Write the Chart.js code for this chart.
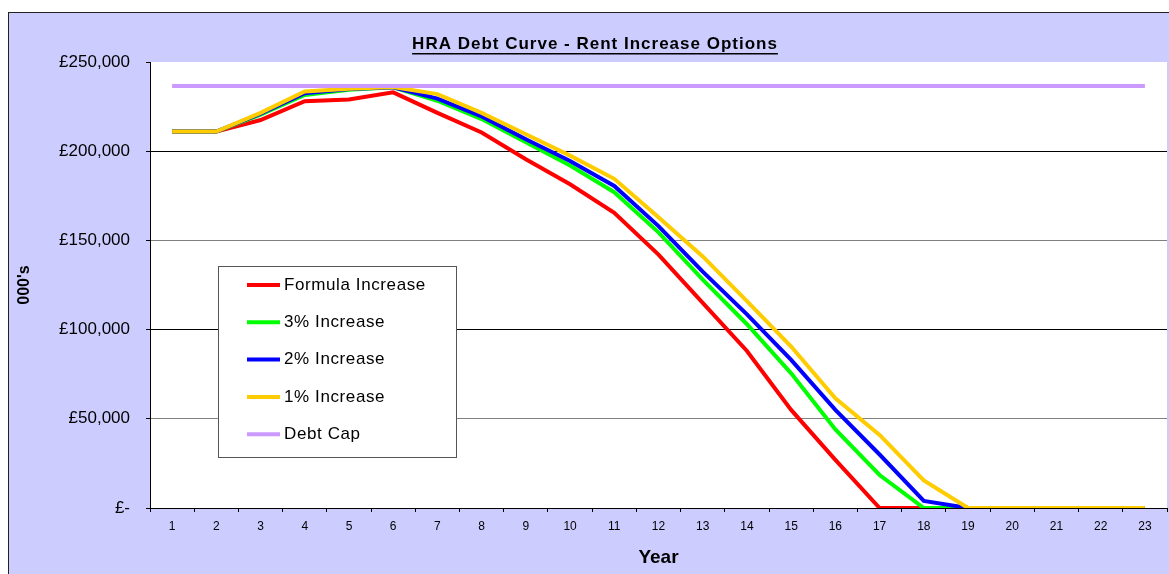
<!DOCTYPE html>
<html>
<head>
<meta charset="utf-8">
<script src="https://cdn.jsdelivr.net/npm/chart.js@4"></script>
<style>
  body { margin: 0; background: #fff; }
  #box {
    position: absolute; left: 8px; top: 12px;
    width: 1160px; height: 561px;
    background: #ccccff;
    border-top: 1px solid #222; border-left: 1px solid #222;
  }
</style>
</head>
<body>
<div id="box"><canvas id="chart" width="1160" height="561"></canvas></div>
<script>
// values in £000's
const years = ["1", "2", "3", "4", "5", "6", "7", "8", "9", "10", "11", "12",
  "13", "14", "15", "16", "17", "18", "19", "20", "21", "22", "23"];

const formulaIncrease = [211000, 211000, 217500, 228000, 229000, 233000, 221500, 210500,
  195500, 181500, 165500, 142000, 115000, 88000, 55000, 27000, 0, 0, 0, 0, 0, 0, 0];
const increase3 = [211000, 211000, 220500, 231500, 234500, 235800, 228300, 218000,
  205000, 192000, 177000, 154500, 128000, 103000, 75500, 44000, 18500, 0, 0, 0, 0, 0, 0];
const increase2 = [211000, 211000, 221000, 232500, 234800, 235800, 229500, 219500,
  206700, 194500, 180500, 158000, 132500, 108500, 83000, 55000, 30000, 4000, 0, 0, 0, 0, 0];
const increase1 = [211000, 211000, 221500, 233500, 235000, 236000, 232000, 221500,
  209500, 197500, 184500, 163000, 141000, 116000, 90500, 61500, 41000, 15500, 0, 0, 0, 0, 0];
const debtCap = [236500, 236500, 236500, 236500, 236500, 236500, 236500, 236500,
  236500, 236500, 236500, 236500, 236500, 236500, 236500, 236500, 236500, 236500,
  236500, 236500, 236500, 236500, 236500];

const seriesNames = ["Formula Increase", "3% Increase", "2% Increase", "1% Increase", "Debt Cap"];
const seriesColors = ["#ff0000", "#00ff00", "#0000ff", "#ffcc00", "#cc99ff"];

const FONT = "'Liberation Sans', Arial, sans-serif";

function money(v) {
  if (v === 0) return "£-";
  return "£" + v.toLocaleString("en-GB");
}

// white plot area
const plotBg = {
  id: "plotBg",
  beforeDraw(chart) {
    let a = chart.chartArea;
    let ctx = chart.ctx;
    ctx.save();
    ctx.fillStyle = "#fff";
    ctx.fillRect(a.left, a.top, a.right - a.left, a.bottom - a.top);
    ctx.restore();
  },
};

// underlined title, centred on the whole chart box
const titlePlugin = {
  id: "titlePlugin",
  afterDraw(chart) {
    let ctx = chart.ctx;
    let text = "HRA Debt Curve - Rent Increase Options";
    ctx.save();
    ctx.font = "bold 17px " + FONT;
    ctx.letterSpacing = "1px";
    ctx.fillStyle = "#000";
    ctx.textAlign = "center";
    ctx.textBaseline = "middle";
    let cx = 586;
    ctx.fillText(text, cx, 31);
    let w = ctx.measureText(text).width;
    ctx.fillRect(cx - w / 2, 40, w, 1.5);
    ctx.restore();
  },
};

// legend box inside the plot
const legendBox = {
  id: "legendBox",
  afterDraw(chart) {
    let ctx = chart.ctx;
    ctx.save();
    ctx.fillStyle = "#fff";
    ctx.fillRect(209, 253, 238, 191);
    ctx.strokeStyle = "#555";
    ctx.lineWidth = 1;
    ctx.strokeRect(209.5, 253.5, 238, 191);
    ctx.font = "17px " + FONT;
    ctx.letterSpacing = "0.6px";
    ctx.textBaseline = "middle";
    chart.data.datasets.forEach((ds, i) => {
      let y = 272 + i * 37.3;
      ctx.strokeStyle = ds.borderColor;
      ctx.lineWidth = 4;
      ctx.beginPath();
      ctx.moveTo(238, y);
      ctx.lineTo(271, y);
      ctx.stroke();
      ctx.fillStyle = "#000";
      ctx.fillText(ds.label, 275, y);
    });
    ctx.restore();
  },
};

const allSeries = [formulaIncrease, increase3, increase2, increase1, debtCap];

const datasets = allSeries.map((vals, i) => ({
  label: seriesNames[i],
  data: vals,
  borderColor: seriesColors[i],
  backgroundColor: seriesColors[i],
  borderWidth: 4,
  pointRadius: 0,
  tension: 0,
  fill: false,
  order: 5 - i,
}));

new Chart(document.getElementById("chart"), {
  type: "line",
  data: { labels: years, datasets: datasets },
  options: {
    responsive: false,
    animation: false,
    devicePixelRatio: 1,
    layout: { padding: { top: 49, right: 2, left: 0, bottom: 0 } },
    plugins: {
      legend: { display: false },
      title: { display: false },
      tooltip: { enabled: false },
    },
    scales: {
      x: {
        offset: true,
        grid: {
          offset: true,
          drawOnChartArea: false,
          tickLength: 4,
          tickColor: "#000",
        },
        border: { color: "#000", width: 1 },
        ticks: {
          color: "#000",
          font: { family: FONT, size: 12 },
          padding: 7,
          maxRotation: 0,
          autoSkip: false,
        },
        title: {
          display: true,
          text: "Year",
          color: "#000",
          font: { family: FONT, size: 19, weight: "bold" },
          padding: { top: 0, bottom: 5 },
        },
        afterFit(scale) {
          scale.height = 66;
        },
      },
      y: {
        min: 0,
        max: 250000,
        grid: {
          color: (c) => {
            let v = c.tick ? c.tick.value : 0;
            if (v === 250000 || v === 0) return "rgba(0,0,0,0)";
            return v % 100000 === 0 ? "#000" : "#808080";
          },
          tickLength: 4,
          tickColor: "#000",
        },
        border: { color: "#000", width: 1 },
        ticks: {
          stepSize: 50000,
          color: "#000",
          font: { family: FONT, size: 17 },
          padding: 16,
          callback: (v) => money(v),
        },
        title: {
          display: true,
          text: "000's",
          color: "#000",
          font: { family: FONT, size: 16, weight: "bold" },
          padding: { top: 6, bottom: 0 },
        },
        afterFit(scale) {
          scale.width = 141;
        },
      },
    },
  },
  plugins: [plotBg, titlePlugin, legendBox],
});
</script>
</body>
</html>
